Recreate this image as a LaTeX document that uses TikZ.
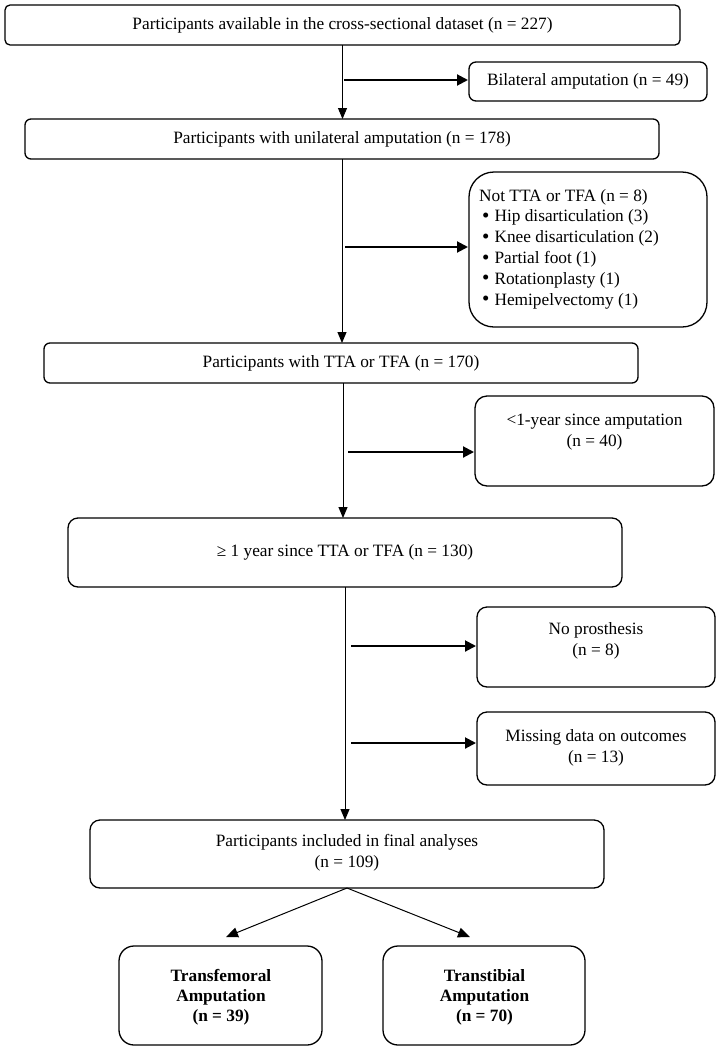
\documentclass[tikz,border=0pt]{standalone}
\usepackage{fontspec}
\setmainfont{Liberation Serif}
\usetikzlibrary{arrows.meta}
\newcommand\bul{\hspace*{3pt}\raisebox{-0.5pt}{\fontsize{21}{20.8}\selectfont\textbullet}\hspace{5pt}}
\begin{document}
\begin{tikzpicture}[x=1pt,y=-1pt,
  box/.style={draw, line width=1.3pt, inner sep=0pt, outer sep=0pt, align=center,
    font=\fontsize{17.3}{21}\selectfont},
  txt/.style={inner sep=0pt, font=\fontsize{17.3}{21}\selectfont, align=center},
  btxt/.style={inner sep=0pt, font=\fontsize{17.3}{20}\selectfont\bfseries, align=center},
  vline/.style={line width=1pt, -{Triangle[length=11pt,width=9pt]}},
  sarrow/.style={line width=2pt, -{Triangle[length=11pt,width=11pt]}, shorten >=1pt},
  darrow/.style={line width=1pt, -{Triangle[length=12pt,width=10pt]}}]
\useasboundingbox (0,0) rectangle (721,1050);

% boxes
\node[box, rounded corners=5pt, minimum width=675pt, minimum height=40pt] (b1) at (342.5,25)
  {Participants available in the cross-sectional dataset (n = 227)};
\node[box, rounded corners=7pt, minimum width=238pt, minimum height=39pt] (bil) at (588,81.5)
  {Bilateral amputation (n = 49)};
\node[box, rounded corners=6pt, minimum width=634pt, minimum height=40pt] (b3) at (342,139)
  {Participants with unilateral amputation (n = 178)};
\node[box, rounded corners=25pt, minimum width=238pt, minimum height=155pt] (nt) at (588,249.5) {};
\node[box, rounded corners=6pt, minimum width=594pt, minimum height=40pt] (b5) at (341,363)
  {Participants with TTA or TFA (n = 170)};
\node[box, rounded corners=12pt, minimum width=239pt, minimum height=90pt] (lt1) at (594.5,441) {};
\node[box, rounded corners=10pt, minimum width=554pt, minimum height=69pt] (b7) at (345,552.5)
  {≥ 1 year since TTA or TFA (n = 130)};
\node[box, rounded corners=10pt, minimum width=238pt, minimum height=80pt] (np) at (596,647) {};
\node[box, rounded corners=10pt, minimum width=238pt, minimum height=73pt] (md) at (596,748.5) {};
\node[box, rounded corners=10pt, minimum width=514pt, minimum height=68pt] (fin) at (347,854) {};
\node[box, rounded corners=15pt, minimum width=203pt, minimum height=99pt] (tf) at (220.5,995.5) {};
\node[box, rounded corners=15pt, minimum width=202pt, minimum height=99pt] (tt) at (484,995.5) {};

% texts
\node[txt, anchor=west, align=left, font=\fontsize{17.3}{20.8}\selectfont] (ntt) at (479,249)
  {Not TTA or TFA (n = 8)\\
   \bul Hip disarticulation (3)\\
   \bul Knee disarticulation (2)\\
   \bul Partial foot (1)\\
   \bul Rotationplasty (1)\\
   \bul Hemipelvectomy (1)};
\node[txt] (lt1t) at (594.5,432) {<1-year since amputation\\(n = 40)};
\node[txt] (npt) at (596,640.5) {No prosthesis\\(n = 8)};
\node[txt] (mdt) at (596,747.5) {Missing data on outcomes\\(n = 13)};
\node[txt] (fint) at (347,852.5) {Participants included in final analyses\\(n = 109)};
\node[btxt] (tft) at (221,997) {Transfemoral\\Amputation\\(n = 39)};
\node[btxt] (ttt) at (484.5,997) {Transtibial\\Amputation\\(n = 70)};

% main flow
\draw[vline] (b1.south) -- (b1.south |- b3.north);
\draw[vline] (b3.south) -- (b3.south |- b5.north);
\draw[vline] ([xshift=2pt]b5.south) -- ([xshift=2pt]b5.south |- b7.north);
\draw[vline] (b7.south) -- (b7.south |- fin.north);

% side arrows
\coordinate (s1) at (344,80);
\coordinate (s2) at (345,247);
\coordinate (s3) at (348,452);
\coordinate (s4) at (351,646);
\coordinate (s5) at (351,743);
\draw[sarrow] (s1) -- (s1 -| bil.west);
\draw[sarrow] (s2) -- (s2 -| nt.west);
\draw[sarrow] (s3) -- (s3 -| lt1.west);
\draw[sarrow] (s4) -- (s4 -| np.west);
\draw[sarrow] (s5) -- (s5 -| md.west);

% split
\coordinate (d1) at (226,937);
\coordinate (d2) at (470,937);
\draw[darrow] (fin.south) -- (d1);
\draw[darrow] (fin.south) -- (d2);
\end{tikzpicture}
\end{document}
